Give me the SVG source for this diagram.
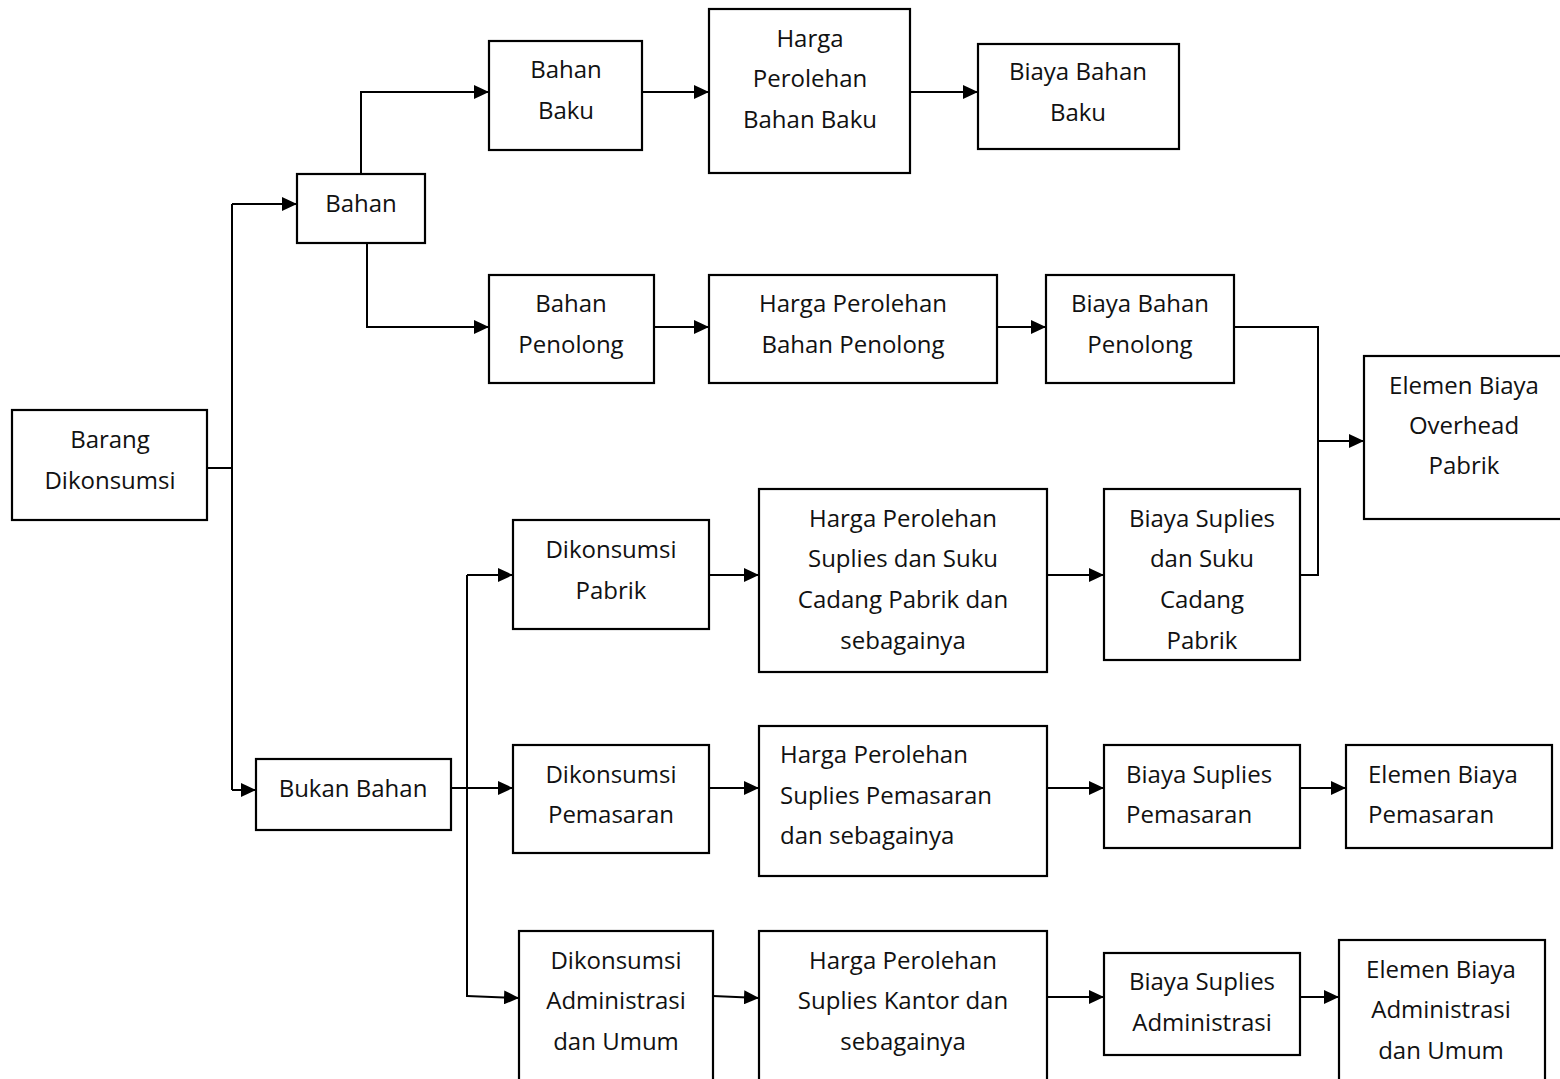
<svg xmlns="http://www.w3.org/2000/svg" width="1560" height="1079" viewBox="0 0 1560 1079">
<style>
.b{fill:#fff;stroke:#000;stroke-width:2.2}
.t{font-family:"Open Sans","Noto Sans",sans-serif;font-size:24px;fill:#111;text-anchor:middle}
.l{text-anchor:start}
.c{fill:none;stroke:#000;stroke-width:2}
</style>
<defs>
<marker id="a" markerWidth="16" markerHeight="14" refX="15" refY="7" orient="auto" markerUnits="userSpaceOnUse">
<path d="M0,0 L15,7 L0,14 Z" fill="#000"/>
</marker>
</defs>
<rect width="1560" height="1079" fill="#fff"/>
<g id="connectors">
<path class="c" d="M207,468 H232 M232,204 V790"/>
<path class="c" d="M232,204 H297" marker-end="url(#a)"/>
<path class="c" d="M232,790 H256" marker-end="url(#a)"/>
<path class="c" d="M361,174 V92 H489" marker-end="url(#a)"/>
<path class="c" d="M367,243 V327 H489" marker-end="url(#a)"/>
<path class="c" d="M642,92 H709" marker-end="url(#a)"/>
<path class="c" d="M910,92 H978" marker-end="url(#a)"/>
<path class="c" d="M654,327 H709" marker-end="url(#a)"/>
<path class="c" d="M997,327 H1046" marker-end="url(#a)"/>
<path class="c" d="M1234,327 H1318 V575 H1300"/>
<path class="c" d="M1318,441 H1364" marker-end="url(#a)"/>
<path class="c" d="M451,788 H513" marker-end="url(#a)"/>
<path class="c" d="M467,575 V997"/>
<path class="c" d="M467,575 H513" marker-end="url(#a)"/>
<path class="c" d="M467,996 L519,998" marker-end="url(#a)"/>
<path class="c" d="M709,575 H759" marker-end="url(#a)"/>
<path class="c" d="M1047,575 H1104" marker-end="url(#a)"/>
<path class="c" d="M709,788 H759" marker-end="url(#a)"/>
<path class="c" d="M1047,788 H1104" marker-end="url(#a)"/>
<path class="c" d="M1300,788 H1346" marker-end="url(#a)"/>
<path class="c" d="M713,996 L759,998" marker-end="url(#a)"/>
<path class="c" d="M1047,997 H1104" marker-end="url(#a)"/>
<path class="c" d="M1300,997 H1339" marker-end="url(#a)"/>
</g>
<g id="barang"><rect class="b" x="12" y="410" width="195" height="110"/><text class="t" x="110" y="448">Barang</text><text class="t" x="110" y="489">Dikonsumsi</text></g>
<g id="bahan"><rect class="b" x="297" y="174" width="128" height="69"/><text class="t" x="361" y="212">Bahan</text></g>
<g id="bahan-baku"><rect class="b" x="489" y="41" width="153" height="109"/><text class="t" x="566" y="78">Bahan</text><text class="t" x="566" y="119">Baku</text></g>
<g id="harga-bahan-baku"><rect class="b" x="709" y="9" width="201" height="164"/><text class="t" x="810" y="47">Harga</text><text class="t" x="810" y="87">Perolehan</text><text class="t" x="810" y="128">Bahan Baku</text></g>
<g id="biaya-bahan-baku"><rect class="b" x="978" y="44" width="201" height="105"/><text class="t" x="1078" y="80">Biaya Bahan</text><text class="t" x="1078" y="121">Baku</text></g>
<g id="bahan-penolong"><rect class="b" x="489" y="275" width="165" height="108"/><text class="t" x="571" y="312">Bahan</text><text class="t" x="571" y="353">Penolong</text></g>
<g id="harga-bahan-penolong"><rect class="b" x="709" y="275" width="288" height="108"/><text class="t" x="853" y="312">Harga Perolehan</text><text class="t" x="853" y="353">Bahan Penolong</text></g>
<g id="biaya-bahan-penolong"><rect class="b" x="1046" y="275" width="188" height="108"/><text class="t" x="1140" y="312">Biaya Bahan</text><text class="t" x="1140" y="353">Penolong</text></g>
<g id="elemen-overhead"><rect class="b" x="1364" y="356" width="210" height="163"/><text class="t" x="1464" y="394">Elemen Biaya</text><text class="t" x="1464" y="434">Overhead</text><text class="t" x="1464" y="474">Pabrik</text></g>
<g id="dikonsumsi-pabrik"><rect class="b" x="513" y="520" width="196" height="109"/><text class="t" x="611" y="558">Dikonsumsi</text><text class="t" x="611" y="599">Pabrik</text></g>
<g id="harga-suplies-pabrik"><rect class="b" x="759" y="489" width="288" height="183"/><text class="t" x="903" y="527">Harga Perolehan</text><text class="t" x="903" y="567">Suplies dan Suku</text><text class="t" x="903" y="608">Cadang Pabrik dan</text><text class="t" x="903" y="649">sebagainya</text></g>
<g id="biaya-suplies-pabrik"><rect class="b" x="1104" y="489" width="196" height="171"/><text class="t" x="1202" y="527">Biaya Suplies</text><text class="t" x="1202" y="567">dan Suku</text><text class="t" x="1202" y="608">Cadang</text><text class="t" x="1202" y="649">Pabrik</text></g>
<g id="bukan-bahan"><rect class="b" x="256" y="759" width="195" height="71"/><text class="t" x="353" y="797">Bukan Bahan</text></g>
<g id="dikonsumsi-pemasaran"><rect class="b" x="513" y="745" width="196" height="108"/><text class="t" x="611" y="783">Dikonsumsi</text><text class="t" x="611" y="823">Pemasaran</text></g>
<g id="harga-suplies-pemasaran"><rect class="b" x="759" y="726" width="288" height="150"/><text class="t l" x="780" y="763">Harga Perolehan</text><text class="t l" x="780" y="804">Suplies Pemasaran</text><text class="t l" x="780" y="844">dan sebagainya</text></g>
<g id="biaya-suplies-pemasaran"><rect class="b" x="1104" y="745" width="196" height="103"/><text class="t l" x="1126" y="783">Biaya Suplies</text><text class="t l" x="1126" y="823">Pemasaran</text></g>
<g id="elemen-pemasaran"><rect class="b" x="1346" y="745" width="206" height="103"/><text class="t l" x="1368" y="783">Elemen Biaya</text><text class="t l" x="1368" y="823">Pemasaran</text></g>
<g id="dikonsumsi-admin"><rect class="b" x="519" y="931" width="194" height="160"/><text class="t" x="616" y="969">Dikonsumsi</text><text class="t" x="616" y="1009">Administrasi</text><text class="t" x="616" y="1050">dan Umum</text></g>
<g id="harga-suplies-kantor"><rect class="b" x="759" y="931" width="288" height="160"/><text class="t" x="903" y="969">Harga Perolehan</text><text class="t" x="903" y="1009">Suplies Kantor dan</text><text class="t" x="903" y="1050">sebagainya</text></g>
<g id="biaya-suplies-admin"><rect class="b" x="1104" y="953" width="196" height="102"/><text class="t" x="1202" y="990">Biaya Suplies</text><text class="t" x="1202" y="1031">Administrasi</text></g>
<g id="elemen-admin"><rect class="b" x="1339" y="940" width="206" height="150"/><text class="t" x="1441" y="978">Elemen Biaya</text><text class="t" x="1441" y="1018">Administrasi</text><text class="t" x="1441" y="1059">dan Umum</text></g>
</svg>
